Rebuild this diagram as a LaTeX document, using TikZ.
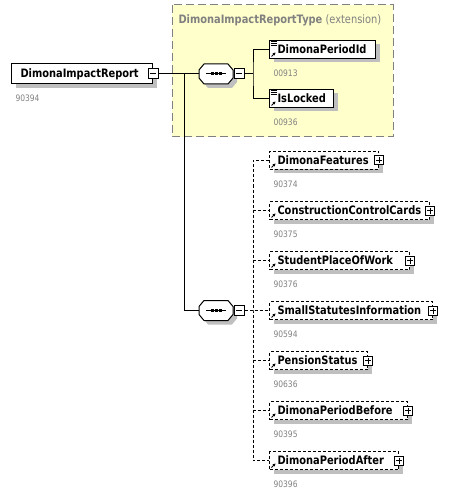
\documentclass[tikz,border=0pt]{standalone}
\usepackage{fontspec}
\setmainfont{DejaVu Sans}[FakeStretch=0.85]
\usetikzlibrary{positioning,shadows,arrows.meta}

\definecolor{extfill}{HTML}{FFFFCC}
\definecolor{extline}{HTML}{808080}
\definecolor{idgray}{HTML}{808080}

\def\namefont{\fontsize{11.6}{13}\selectfont\bfseries}
\def\idfont{\fontsize{8.9}{10}\selectfont}

% small icons, drawn inside the boxes
\def\refarrow{\draw[solid,line width=1pt,-{Stealth[length=3pt,width=3pt]}]
  ([shift={(2pt,2pt)}]path picture bounding box.south west) -- +(4pt,4pt);}
\def\simpleicon{\draw[solid,line width=.8pt]
  ([shift={(1pt,-1pt)}]path picture bounding box.north west) -- +(6pt,0pt)
  ([shift={(1pt,-3pt)}]path picture bounding box.north west) -- +(6pt,0pt)
  ([shift={(1pt,-5pt)}]path picture bounding box.north west) -- +(6pt,0pt);}
\def\seqicon{
  \draw ([xshift=-10pt]path picture bounding box.center)
    -- ([xshift=10pt]path picture bounding box.center);
  \fill ([shift={(-5.5pt,-1.5pt)}]path picture bounding box.center) rectangle +(3pt,3pt);
  \fill ([shift={(-1.5pt,-1.5pt)}]path picture bounding box.center) rectangle +(3pt,3pt);
  \fill ([shift={(2.5pt,-1.5pt)}]path picture bounding box.center) rectangle +(3pt,3pt);}

\tikzset{
  grayshadow/.style={drop shadow={shadow xshift=4pt,shadow yshift=-4pt,
      opacity=1,fill=black!25}},
  namebox/.style={draw,fill=white,grayshadow,anchor=west,inner xsep=8pt,
    inner ysep=0pt,minimum height=18pt,text width=#1,align=left,
    text height=10pt,text depth=2pt,font=\namefont},
  elem/.style={namebox=#1,path picture={\refarrow}},
  simpleelem/.style={namebox=#1,path picture={\simpleicon\refarrow}},
  optelem/.style={elem=#1,dash pattern=on 3pt off 2pt},
  idnum/.style={inner sep=0pt,text=idgray,font=\idfont},
  pmbox/.style={draw,fill=white,inner sep=0pt,minimum size=#1},
  pmminus/.style={pmbox=10pt,path picture={
      \draw ([xshift=2pt]path picture bounding box.west)
      -- ([xshift=-2pt]path picture bounding box.east);}},
  pmplus/.style={pmbox=9pt,path picture={
      \draw ([xshift=1.5pt]path picture bounding box.west)
      -- ([xshift=-1.5pt]path picture bounding box.east)
      ([yshift=-1.5pt]path picture bounding box.north)
      -- ([yshift=1.5pt]path picture bounding box.south);}},
  seqline/.style={draw,fill=white,grayshadow},
  seqbox/.style={minimum width=34pt,minimum height=20pt,inner sep=0pt,
    path picture={\seqicon}},
  optconn/.style={dash pattern=on 3pt off 2pt}
}

\begin{document}
\begin{tikzpicture}[x=1pt,y=-1pt,line width=1pt]
  \useasboundingbox (0,0) rectangle (465,494);

  % extension frame
  \draw[extline,fill=extfill,dash pattern=on 8pt off 4pt]
  (172,5) rectangle (393,137);
  \node[anchor=west,inner sep=0pt,text=extline,
    font=\fontsize{11.6}{13}\selectfont] (exttitle) at (178,20)
  {\textbf{DimonaImpactReportType} (extension)};

  % root element
  \node[namebox=123pt,inner xsep=9pt,minimum height=20pt] (root) at (11,74)
  {DimonaImpactReport};
  \node[pmminus] (rootpm) at (root.east) {};
  \node[idnum,below right=10pt and 4pt of root.south west] (rootid) {90394};

  % sequences
  \begin{scope}[shift={(216,74)}]
    \path[seqline] (-12,-10) -- (12,-10) -- (17,-4) -- (17,4)
    -- (12,10) -- (-12,10) -- (-17,4) -- (-17,-4) -- cycle;
  \end{scope}
  \node[seqbox] (seq1) at (216,74) {};
  \node[pmminus,right=0pt of seq1] (seq1pm) {};

  \begin{scope}[shift={(216,310.5)}]
    \path[seqline] (-12,-10) -- (12,-10) -- (17,-4) -- (17,4)
    -- (12,10) -- (-12,10) -- (-17,4) -- (-17,-4) -- cycle;
  \end{scope}
  \node[seqbox] (seq2) at (216,310.5) {};
  \node[pmminus,right=0pt of seq2] (seq2pm) {};

  % base type children
  \node[simpleelem=90pt] (pid) at (269,49.5) {DimonaPeriodId};
  \node[idnum,below right=10.5pt and 4pt of pid.south west] (pidid) {00913};
  \node[simpleelem=48pt] (lock) at (269,98.5) {IsLocked};
  \node[idnum,below right=10.5pt and 4pt of lock.south west] (lockid) {00936};

  % optional children
  \node[optelem=93pt] (feat) at (269,160.5) {DimonaFeatures};
  \node[pmplus] (featpm) at (feat.east) {};
  \node[idnum,below right=10.5pt and 4pt of feat.south west] (featid) {90374};

  \node[optelem=144pt] (cards) at (269,210.5) {ConstructionControlCards};
  \node[pmplus] (cardspm) at (cards.east) {};
  \node[idnum,below right=10.5pt and 4pt of cards.south west] (cardsid) {90375};

  \node[optelem=124pt] (work) at (269,260.5) {StudentPlaceOfWork};
  \node[pmplus] (workpm) at (work.east) {};
  \node[idnum,below right=10.5pt and 4pt of work.south west] (workid) {90376};

  \node[optelem=147pt] (small) at (269,310.5) {SmallStatutesInformation};
  \node[pmplus] (smallpm) at (small.east) {};
  \node[idnum,below right=10.5pt and 4pt of small.south west] (smallid) {90594};

  \node[optelem=82pt] (pension) at (269,360.5) {PensionStatus};
  \node[pmplus] (pensionpm) at (pension.east) {};
  \node[idnum,below right=10.5pt and 4pt of pension.south west] (pensionid) {90636};

  \node[optelem=122pt] (before) at (269,410.5) {DimonaPeriodBefore};
  \node[pmplus] (beforepm) at (before.east) {};
  \node[idnum,below right=10.5pt and 4pt of before.south west] (beforeid) {90395};

  \node[optelem=113pt] (after) at (269,460.5) {DimonaPeriodAfter};
  \node[pmplus] (afterpm) at (after.east) {};
  \node[idnum,below right=10.5pt and 4pt of after.south west] (afterid) {90396};

  % connectors
  \coordinate (rootfork) at (184,74);
  \coordinate (seq1fork) at (253,74);
  \coordinate (seq2fork) at (253,310.5);
  \draw (rootpm) -- (seq1);
  \draw (rootfork) |- (seq2.west);
  \draw (seq1pm) -- (seq1fork);
  \draw (pid.west) -| (seq1fork) |- (lock.west);
  \draw[optconn] (seq2pm) -- (small.west);
  \draw[optconn] (feat.west) -| (seq2fork) |- (after.west);
  \draw[optconn] (seq2fork |- cards.west) -- (cards.west);
  \draw[optconn] (seq2fork |- work.west) -- (work.west);
  \draw[optconn] (seq2fork |- pension.west) -- (pension.west);
  \draw[optconn] (seq2fork |- before.west) -- (before.west);

\end{tikzpicture}
\end{document}
